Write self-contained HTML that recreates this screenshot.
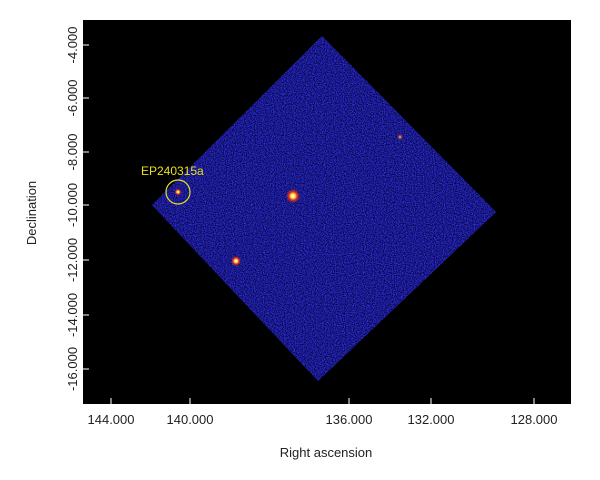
<!DOCTYPE html>
<html><head><style>
body{margin:0;background:#fff;width:600px;height:475px;overflow:hidden;font-family:"Liberation Sans",sans-serif}
</style></head><body>
<svg width="600" height="475" xmlns="http://www.w3.org/2000/svg" font-family="Liberation Sans, sans-serif">
<defs>
<filter id="n" x="0" y="0" width="100%" height="100%" color-interpolation-filters="sRGB">
<feTurbulence type="fractalNoise" baseFrequency="0.9" numOctaves="2" seed="3" result="t"/>
<feColorMatrix in="t" type="matrix" values="0 0 0.4 0 -0.1  0 0 0.4 0 -0.1  0 0 1.4 0 -0.15  0 0 0 0 1" result="c"/>
<feComposite in="c" in2="SourceGraphic" operator="in"/>
</filter>
<radialGradient id="s"><stop offset="0" stop-color="#fff"/><stop offset="0.3" stop-color="#ffe060"/><stop offset="0.6" stop-color="#e03010"/><stop offset="1" stop-color="#e03010" stop-opacity="0"/></radialGradient>
</defs>
<rect x="83" y="20" width="488" height="384" fill="#000"/>
<polygon points="322,36 496,212 318,381 152,205" fill="#1c1c90"/>
<polygon points="322,36 496,212 318,381 152,205" fill="#1c1c90" filter="url(#n)"/>
<circle cx="293" cy="196" r="7" fill="url(#s)"/>
<circle cx="236" cy="261" r="5" fill="url(#s)"/>
<circle cx="178" cy="192" r="3.5" fill="url(#s)"/>
<circle cx="400" cy="137" r="3" fill="url(#s)" opacity="0.6"/>
<circle cx="178" cy="192" r="12" fill="none" stroke="#e8e020" stroke-width="1.2"/>
<text x="141" y="175" fill="#e8e020" font-size="12">EP240315a</text>
<g stroke="#fff" stroke-width="1">
<line x1="111" y1="404" x2="111" y2="398"/><line x1="190" y1="404" x2="190" y2="398"/><line x1="349" y1="404" x2="349" y2="398"/><line x1="431" y1="404" x2="431" y2="398"/><line x1="534" y1="404" x2="534" y2="398"/>
<line x1="83" y1="45" x2="89" y2="45"/><line x1="83" y1="98" x2="89" y2="98"/><line x1="83" y1="152" x2="89" y2="152"/><line x1="83" y1="205" x2="89" y2="205"/><line x1="83" y1="260" x2="89" y2="260"/><line x1="83" y1="315" x2="89" y2="315"/><line x1="83" y1="369" x2="89" y2="369"/>
</g>
<g font-size="13" fill="#222" text-anchor="middle">
<text x="111" y="424">144.000</text><text x="190" y="424">140.000</text><text x="349" y="424">136.000</text><text x="431" y="424">132.000</text><text x="534" y="424">128.000</text>
<text transform="translate(77,45) rotate(-90)">-4.000</text>
<text transform="translate(77,98) rotate(-90)">-6.000</text>
<text transform="translate(77,152) rotate(-90)">-8.000</text>
<text transform="translate(77,205) rotate(-90)">-10.000</text>
<text transform="translate(77,260) rotate(-90)">-12.000</text>
<text transform="translate(77,315) rotate(-90)">-14.000</text>
<text transform="translate(77,369) rotate(-90)">-16.000</text>
<text x="326" y="457">Right ascension</text>
<text transform="translate(36,213) rotate(-90)">Declination</text>
</g>
</svg>
</body></html>
